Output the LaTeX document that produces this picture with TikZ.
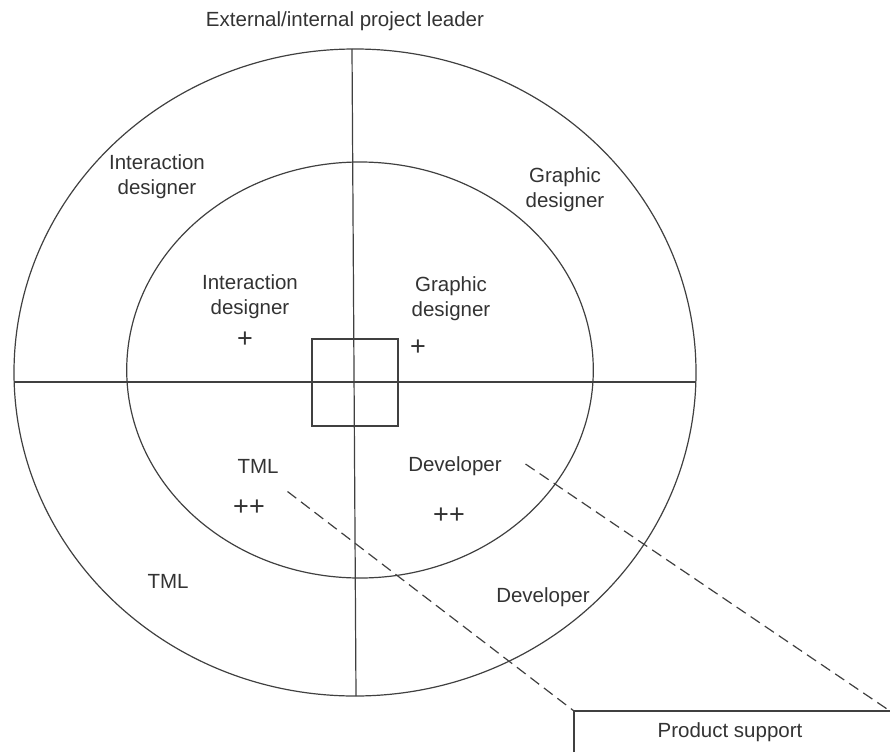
\documentclass[tikz,border=0pt]{standalone}
\usepackage{fontspec}
\setmainfont{Liberation Sans}
\begin{document}
\begin{tikzpicture}[x=1pt,y=-1pt,
  ln/.style={line width=1.2pt,draw=black!75},
  lbl/.style={text=black!80,font=\fontsize{20.5}{25}\selectfont,align=center,inner sep=0pt},
  pls/.style={text=black!80,font=\fontsize{27}{30}\selectfont,inner sep=0pt},
  dsh/.style={ln,dash pattern=on 11pt off 6pt}]
\useasboundingbox (0,0) rectangle (890,752);
% rings
\draw[ln] (355,372.5) ellipse [x radius=341, y radius=323.5];
\draw[ln] (360,370) ellipse [x radius=233.3, y radius=208];
% axes
\coordinate (vt) at (352,49);
\coordinate (vb) at (356,696);
\coordinate (hl) at (14,382);
\coordinate (hr) at (696,382);
\draw[ln] (vt) -- (vb);
\draw[ln] (hl) -- (hr);
% centre square
\node[ln,draw,rectangle,minimum width=86pt,minimum height=87pt,inner sep=0pt] (sq) at (355,382.5) {};
% labels
\node[lbl] (top) at (345,21) {External/internal project leader};
\node[lbl] (oid) at (157,177) {Interaction\\designer};
\node[lbl] (ogd) at (565,190) {Graphic\\designer};
\node[lbl] (iid) at (250,297) {Interaction\\designer};
\node[lbl] (igd) at (451,299) {Graphic\\designer};
\node[pls] (p1) at (245,340) {+};
\node[pls] (p2) at (418,348) {+};
\node[lbl] (itml) at (258,466) {TML};
\node[pls] (pp1) at (249,508) {++};
\node[lbl] (idev) at (455,466) {Developer};
\node[pls] (pp2) at (449,516) {++};
\node[lbl] (otml) at (168,581) {TML};
\node[lbl] (odev) at (543,597) {Developer};
% product support box
\coordinate (bl) at (574,752);
\coordinate (tl) at (574,711);
\coordinate (tr) at (890,711);
\draw[ln] (bl) -- (tl) -- (tr);
\node[lbl] (ps) at (730,732) {Product support};
% dashed connectors
\coordinate (d1) at (287.5,491.5);
\coordinate (d2) at (525.5,464);
\draw[dsh] (d1) -- (tl);
\draw[dsh] (d2) -- (tr);
\end{tikzpicture}
\end{document}
